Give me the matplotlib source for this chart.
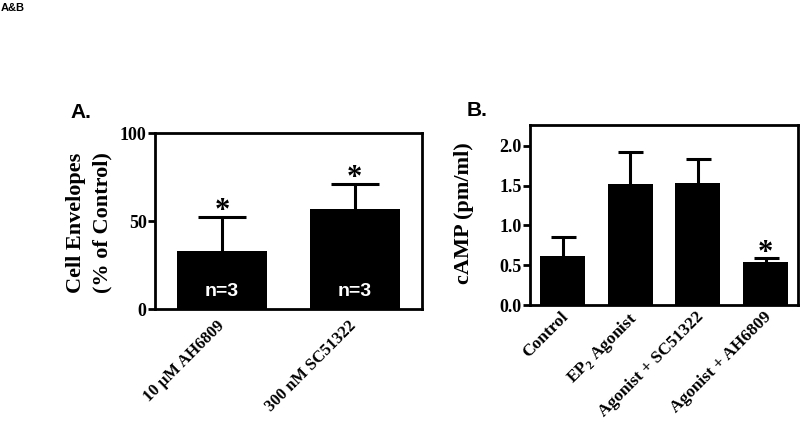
import numpy as np
import matplotlib.pyplot as plt
import matplotlib.transforms as mtransforms

plt.rcParams['font.family'] = ['Liberation Serif', 'DejaVu Serif']
plt.rcParams['font.weight'] = 'bold'
plt.rcParams['mathtext.fontset'] = 'custom'
plt.rcParams['mathtext.rm'] = 'Liberation Serif:bold'
plt.rcParams['mathtext.bf'] = 'Liberation Serif:bold'

# panel A data
a_labels = ['10 \u03bcM AH6809', '300 nM SC51322']
a_values = [33, 57]
a_err = [19, 14]
a_n = ['n=3', 'n=3']
a_sig = [True, True]

# panel B data
b_labels = ['Control', r'EP$_\mathrm{2}$ Agonist', 'Agonist + SC51322', 'Agonist + AH6809']
b_values = [0.61, 1.52, 1.53, 0.54]
b_err = [0.24, 0.40, 0.30, 0.05]
b_sig = [False, False, False, True]

fig = plt.figure(figsize=(8, 4.22), dpi=100)
sans = ['Liberation Sans', 'DejaVu Sans']


def style_axes(ax, xsize, dx, dy):
    for s in ax.spines.values():
        s.set_linewidth(2)
    ax.tick_params(axis='y', direction='out', length=5, width=2, labelsize=13, pad=1)
    ax.tick_params(axis='x', length=0, labelsize=xsize, pad=4)
    for t in ax.get_yticklabels():
        t.set_fontweight('bold')
    # nudge rotated labels
    off = mtransforms.ScaledTranslation(dx / 100, dy / 100, fig.dpi_scale_trans)
    for t in ax.get_xticklabels():
        t.set_transform(t.get_transform() + off)


def up_errorbar(ax, x, y, err, capsize):
    _, caps, _ = ax.errorbar(x, y, yerr=[np.zeros(len(err)), err], fmt='none',
                             ecolor='black', elinewidth=2.2, capsize=capsize,
                             capthick=2.2, zorder=1)
    caps[0].set_visible(False)  # no lower cap


# ---- panel A
axA = fig.add_axes([155/800, 1-309/422, 267/800, 176/422])
xa = np.arange(len(a_values))
axA.bar(xa, a_values, width=0.68, color='black', zorder=2)
up_errorbar(axA, xa, a_values, a_err, 17)
axA.set_xlim(-0.506, 1.509)
axA.set_ylim(0, 100)
axA.set_yticks([0, 50, 100])
axA.set_xticks(xa)
axA.set_xticklabels(a_labels, rotation=45, ha='right', rotation_mode='anchor',
                    fontweight='bold')
for i in range(len(a_values)):
    axA.text(xa[i], 10, a_n[i], color='white', ha='center', va='center',
             fontsize=14, fontweight='bold', family=sans, zorder=3)
    if a_sig[i]:
        axA.annotate('*', (xa[i], a_values[i] + a_err[i]), xytext=(0, 4),
                     textcoords='offset points', ha='center', va='center',
                     fontsize=22, fontweight='bold')
axA.set_ylabel('Cell Envelopes\n(% of Control)', fontsize=16, fontweight='bold',
               linespacing=1.4)
axA.yaxis.set_label_coords(-0.16, 0.49)
style_axes(axA, 12, -6, -3)

# ---- panel B
axB = fig.add_axes([530/800, 1-305/422, 268/800, 180/422])
xb = np.arange(len(b_values))
axB.bar(xb, b_values, width=0.665, color='black', zorder=2)
up_errorbar(axB, xb, b_values, b_err, 9)
axB.set_xlim(-0.48, 3.478)
axB.set_ylim(0, 2.26)
axB.set_yticks([0, 0.5, 1.0, 1.5, 2.0])
axB.set_yticklabels(['0.0', '0.5', '1.0', '1.5', '2.0'])
axB.set_xticks(xb)
axB.set_xticklabels(b_labels, rotation=45, ha='right', rotation_mode='anchor',
                    fontweight='bold')
for i in range(len(b_values)):
    if b_sig[i]:
        axB.annotate('*', (xb[i], b_values[i] + b_err[i]), xytext=(0, 3),
                     textcoords='offset points', ha='center', va='center',
                     fontsize=22, fontweight='bold')
axB.set_ylabel('cAMP (pm/ml)', fontsize=16, fontweight='bold')
axB.yaxis.set_label_coords(-0.21, 0.51)
style_axes(axB, 12.5, -2, 2)

fig.text(70/800, 1-112/422, 'A.', family=sans, fontsize=15, fontweight='bold',
         ha='left', va='center')
fig.text(467/800, 1-110/422, 'B.', family=sans, fontsize=15, fontweight='bold',
         ha='left', va='center')
fig.text(1/800, 1-3/422, 'A&B', family=sans, fontsize=8, fontweight='bold',
         ha='left', va='top')

fig.savefig('out.png', dpi=100)
